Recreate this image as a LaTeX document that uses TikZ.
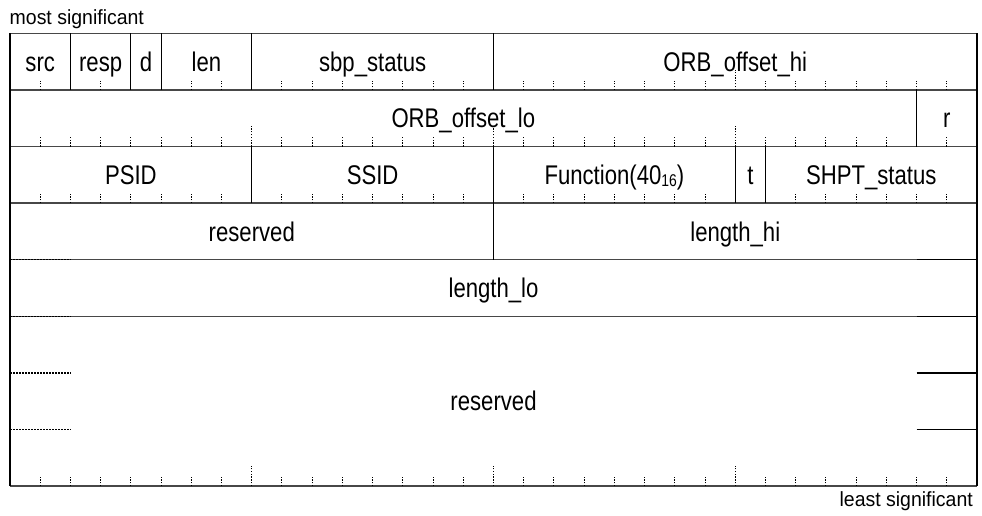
\documentclass[tikz,border=0pt]{standalone}
\usepackage{fontspec}
\setmainfont{Liberation Sans}[FakeStretch=0.82]
\newfontfamily\notefont{Liberation Sans}[FakeStretch=0.95]
\begin{document}
\begin{tikzpicture}[x=1pt,y=-1pt,
  hline/.style={line width=1.5pt,draw=black!72},
  vline/.style={line width=1.2pt,draw=black},
  tickline/.style={line width=1pt,draw=black,dash pattern=on 1.3pt off 1.5pt},
  endmark/.style={line width=1.5pt,draw=black},
  dotmark/.style={line width=1.3pt,draw=black,dash pattern=on 1.5pt off 1.5pt},
  lbl/.style={anchor=base,inner sep=0pt,font=\fontsize{27}{31}\selectfont},
  note/.style={inner sep=0pt,font=\notefont\fontsize{20.5}{24}\selectfont}]
\useasboundingbox (0,0) rectangle (982,516);
\def\X#1{{10+30.22*(#1)}}
\def\Y#1{{33.3+56.6*(#1)}}
% horizontal frame lines
\foreach \r in {0,1,2,3,4,5,8}
  \draw[hline] (\X{0},\Y{\r}) -- (\X{32},\Y{\r});
% outer verticals
\draw[vline,line width=1.6pt] (\X{0},\Y{0}) -- (\X{0},\Y{8});
\draw[vline,line width=1.6pt] (\X{32},\Y{0}) -- (\X{32},\Y{8});
% field separators
\foreach \b in {2,4,5,8,16} \draw[vline] (\X{\b},\Y{0}) -- (\X{\b},\Y{1});
\draw[vline] (\X{30},\Y{1}) -- (\X{30},\Y{2});
\foreach \b in {8,16,24,25} \draw[vline] (\X{\b},\Y{2}) -- (\X{\b},\Y{3});
\draw[vline] (\X{16},\Y{3}) -- (\X{16},\Y{4});
% multi-quadlet markers
\foreach \r in {4,5,6,7}{
  \draw[dotmark] (\X{0},\Y{\r}) -- (\X{2},\Y{\r});
  \draw[endmark] (\X{30},\Y{\r}) -- (\X{32},\Y{\r});
}
% ticks
\newcommand\tickrow[2]{%
  \foreach \b in {#2}{%
    \pgfmathsetmacro\tl{ifthenelse(mod(\b,8)==0,20,9)}%
    \draw[tickline] (\X{\b},\Y{#1}) -- ++(0,-\tl);
  }}
\tickrow{1}{1,3,6,7,9,10,11,12,13,14,15,17,18,19,20,21,22,23,24,25,26,27,28,29,30,31}
\tickrow{2}{1,2,3,4,5,6,7,8,9,10,11,12,13,14,15,16,17,18,19,20,21,22,23,24,25,26,27,28,29,31}
\tickrow{3}{1,2,3,4,5,6,7,9,10,11,12,13,14,15,17,18,19,20,21,22,23,26,27,28,29,30,31}
\tickrow{8}{1,2,3,4,5,6,7,8,9,10,11,12,13,14,15,16,17,18,19,20,21,22,23,24,25,26,27,28,29,30,31}
% labels (baseline = row centre + 9.7)
\node[lbl] (src)   at (\X{1},71.3)  {src};
\node[lbl] (resp)  at (\X{3},71.3)  {resp};
\node[lbl] (d)     at (\X{4.5},71.3) {d};
\node[lbl] (len)   at (\X{6.5},71.3) {len};
\node[lbl] (sbp)   at (\X{12},71.3) {sbp\_status};
\node[lbl] (orbhi) at (\X{24},71.3) {ORB\_offset\_hi};
\node[lbl] (orblo) at (\X{15},127.9)  {ORB\_offset\_lo};
\node[lbl] (r)     at (\X{31},127.9)  {r};
\node[lbl] (psid)  at (\X{4},184.5) {PSID};
\node[lbl] (ssid)  at (\X{12},184.5) {SSID};
\node[lbl] (func)  at (\X{20},184.5) {Function(40\raisebox{-1.5pt}{\fontsize{17}{17}\selectfont 16})};
\node[lbl] (t)     at (\X{24.5},184.5) {t};
\node[lbl] (shpt)  at (\X{28.5},184.5) {SHPT\_status};
\node[lbl] (res1)  at (\X{8},241.1) {reserved};
\node[lbl] (lenhi) at (\X{24},241.1) {length\_hi};
\node[lbl] (lenlo) at (\X{16},297.7) {length\_lo};
\node[lbl] (res2)  at (\X{16},410.9)  {reserved};
\node[note,anchor=base west] (msb) at (9.5,25) {most significant};
\node[note,anchor=base east] (lsb) at (973,506.5) {least significant};
\end{tikzpicture}
\end{document}
